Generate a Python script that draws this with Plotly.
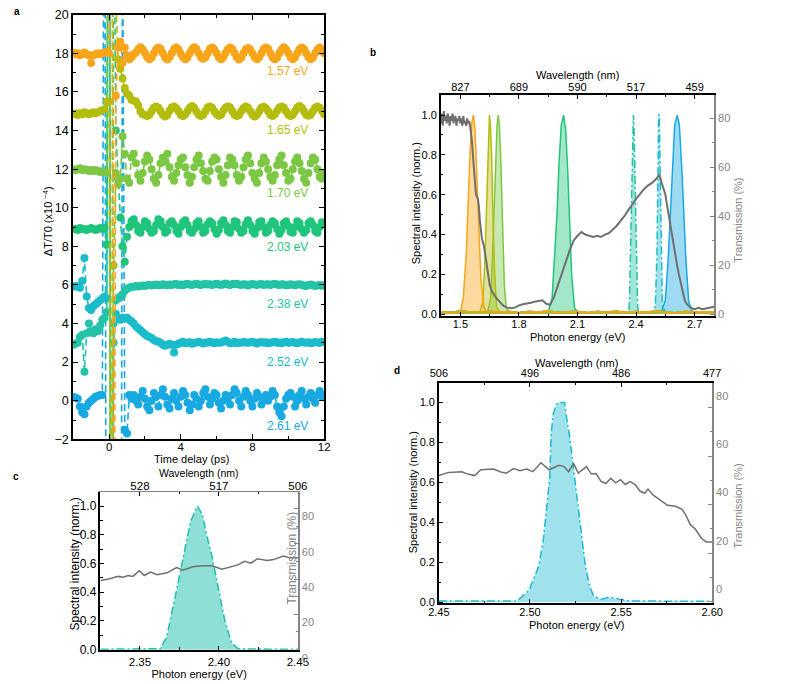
import plotly.graph_objects as go

FONT = "Liberation Sans, Arial, Helvetica, sans-serif"
GRAY = "#858585"
TGRAY = "#6f6f6f"

# ---------------- panel a : pump-probe traces ----------------
TIME_START = -2.0
TIME_STEP = 0.125
N_POINTS = 113
TIME = [round(TIME_START + TIME_STEP * i, 4) for i in range(N_POINTS)]

PROBE_LABELS = ["1.57 eV", "1.65 eV", "1.70 eV", "2.03 eV", "2.38 eV", "2.52 eV", "2.61 eV"]
PROBE_COLORS = ["#F8A51A", "#B4BD0C", "#7CC744", "#1EC57B", "#22C3A6", "#1ABCCB", "#17A9E2"]
TRACE_OFFSETS = [18, 15, 12, 9, 6, 3, 0]

DT_157 = [0.05, -0.05, 0.0, -0.1, -0.05, 0.05, -0.05, -0.1, -0.5, -0.1, -0.05, 0.0, -0.05, 0.0, 0.05, 0.1,
          0.0, 40, -40, -2.2, 0.3, 0.6, -0.5, 0.3,
          -0.1, -0.3, -0.2, -0.05, 0.05, 0.2,
          0.32, 0.2, 0.02, -0.2, -0.3, -0.22, 0.0, 0.2,
          0.3, 0.22, 0.0, -0.22, -0.32, -0.2, 0.02, 0.22,
          0.3, 0.2, -0.02, -0.2, -0.3, -0.22, 0.0, 0.2,
          0.32, 0.22, 0.0, -0.2, -0.28, -0.2, 0.0, 0.22,
          0.3, 0.2, 0.0, -0.22, -0.3, -0.2, 0.02, 0.2,
          0.3, 0.22, 0.02, -0.2, -0.32, -0.22, 0.0, 0.2,
          0.28, 0.2, 0.0, -0.2, -0.3, -0.2, 0.0, 0.22,
          0.3, 0.22, 0.0, -0.22, -0.3, -0.22, 0.0, 0.2,
          0.32, 0.2, 0.0, -0.2, -0.3, -0.2, 0.02, 0.2,
          0.3, 0.22, 0.0, -0.2, -0.3, -0.22, 0.0, 0.2,
          0.3, 0.2, 0.0]

DT_165 = [-0.15, -0.1, -0.2, -0.1, -0.15, -0.05, -0.1, -0.15, -0.1, -0.05, -0.1, -0.05, 0.0, 0.05, 0.1, 0.5,
          0.5, -40, 40, 6, 2.7, 2.2, 1.7, 1.2,
          0.9, 0.8, 0.6, 0.55, 0.5, 0.3, 0.0, -0.15, -0.2,
          -0.25, -0.18, 0.0, 0.18, 0.25, 0.18, 0.0, -0.18,
          -0.27, -0.2, 0.02, 0.2, 0.25, 0.16, 0.0, -0.2,
          -0.25, -0.16, 0.0, 0.18, 0.27, 0.18, -0.02, -0.18,
          -0.25, -0.18, 0.0, 0.2, 0.25, 0.18, 0.0, -0.16,
          -0.23, -0.18, 0.02, 0.18, 0.25, 0.2, 0.0, -0.18,
          -0.25, -0.2, 0.0, 0.16, 0.25, 0.18, 0.0, -0.18,
          -0.27, -0.18, 0.0, 0.18, 0.23, 0.16, 0.0, -0.2,
          -0.25, -0.16, 0.02, 0.18, 0.25, 0.18, 0.0, -0.18,
          -0.25, -0.18, 0.0, 0.2, 0.27, 0.18, 0.0, -0.18,
          -0.23, -0.18, 0.0, 0.18, 0.25, 0.18, 0.02, -0.16]

DT_170 = [0.0, -0.05, 0.0, 0.05, -0.05, 0.0, -0.05, -0.1, -0.05, -0.1, -0.05, -0.1, -0.15, -0.1, -0.15, -0.2,
          40, -40, -5, -0.2, -0.8, -0.5, 1.7, 0.8,
          -0.5, -0.7, 0.6, 0.8, 0.3, -0.3, -0.6, -0.2,
          0.4, 0.7, 0.5, 0.0, -0.5, -0.7, -0.3, 0.3,
          0.6, 0.4, 0.8, 0.1, -0.4, -0.6, -0.2, 0.2,
          0.5, 0.6, 0.1, -0.3, -0.7, -0.4, 0.1, 0.5,
          0.7, 0.3, -0.1, -0.5, -0.6, -0.1, 0.4, 0.6,
          0.5, 0.0, -0.4, -0.7, -0.3, 0.2, 0.6, 0.5,
          0.2, -0.3, -0.6, -0.4, 0.1, 0.5, 0.7, 0.3,
          -0.2, -0.5, -0.7, -0.2, 0.3, 0.6, 0.4, 0.0,
          -0.4, -0.6, -0.3, 0.2, 0.5, 0.7, 0.2, -0.2,
          -0.6, -0.5, 0.0, 0.4, 0.6, 0.3, -0.1, -0.5,
          -0.7, -0.2, 0.3, 0.6, 0.5, 0.0, -0.4, -0.5,
          -0.2]

DT_203 = [-0.1, -0.1, -0.15, -0.05, -0.1, -0.1, -0.15, -0.1, -0.05, -0.1, -0.15, -0.1, -0.05, -0.1, -0.05, -0.9,
          40, -40, 20, 5, 2.5, 0.5, -1.0, -1.8, -0.5, 0.0,
          0.3, 0.4, 0.1, -0.2, -0.3, 0.0, 0.3, 0.2,
          -0.1, -0.3, -0.2, 0.1, 0.4, 0.3, 0.0, -0.3,
          -0.2, 0.2, 0.3, 0.1, -0.2, -0.35, 0.0, 0.25,
          0.35, 0.1, -0.2, -0.3, -0.1, 0.2, 0.3, 0.0,
          -0.3, -0.2, 0.15, 0.3, 0.2, -0.1, -0.35, -0.15,
          0.2, 0.35, 0.1, -0.2, -0.3, 0.0, 0.3, 0.25,
          -0.1, -0.3, -0.2, 0.15, 0.35, 0.1, -0.2, -0.35,
          -0.05, 0.25, 0.3, 0.0, -0.3, -0.2, 0.1, 0.3,
          0.2, -0.1, -0.35, -0.15, 0.2, 0.3, 0.05, -0.25,
          -0.3, 0.0, 0.3, 0.2, -0.1, -0.3, -0.15, 0.2,
          0.3, 0.1, -0.2, -0.3, 0.0, 0.25, 0.2]

DT_238 = [-3.1, -3.05, -3.0, -2.7, -2.6, -4.5, -2.5, -2.0, -2.4, -2.5, -2.3, -2.4, -2.1, -1.8, -1.7, -1.4,
          40, -40, -3.0, -0.8, -0.7, -0.6, -0.5, -0.3, -0.2, -0.15, -0.1,
          -0.1, -0.05, -0.08, -0.05, -0.03, -0.06, -0.02, 0.0,
          -0.03, 0.0, 0.02, -0.02, 0.0, 0.03, 0.0, -0.02,
          0.02, 0.0, 0.03, 0.05, 0.0, 0.02, -0.02, 0.03,
          0.05, 0.02, 0.0, 0.04, 0.06, 0.02, 0.0, 0.03,
          0.05, 0.02, 0.04, 0.0, 0.03, 0.06, 0.02, 0.0,
          0.04, 0.08, 0.02, 0.0, 0.05, 0.03, 0.06, 0.02,
          0.0, 0.04, 0.02, -0.03, 0.02, 0.05, 0.02, 0.0,
          0.03, 0.05, 0.0, 0.02, 0.04, 0.0, 0.03, 0.05,
          0.02, 0.0, 0.04, 0.02, -0.02, 0.0, 0.03, 0.01,
          -0.02, 0.02, 0.04, 0.0, -0.03, -0.05, 0.0, 0.02,
          -0.02, -0.05, -0.03, 0.0, -0.04, -0.02]

DT_252 = [2.9, 2.95, 2.9, 2.85, 3.2, 4.4, 2.4, 1.8, 1.7, 1.9, 2.0, 2.1, 2.2, 2.3, 2.4, 2.3,
          40, -40,
          1.0, 1.5, 1.3, 1.2, 1.3, 1.3, 1.3, 1.2, 1.1, 1.0,
          0.85, 0.75, 0.65, 0.55, 0.45, 0.35, 0.3, 0.25, 0.15, 0.1,
          0.05, 0.0, -0.1, -0.15, -0.1, -0.05, -0.1, -0.5, -0.1,
          -0.05, 0.0, 0.05, -0.02, 0.0, 0.03, -0.05, 0.0,
          0.02, 0.05, 0.0, -0.03, 0.02, 0.0, 0.05, 0.02,
          -0.02, 0.03, 0.0, 0.02, 0.05, 0.12, 0.05, -0.02,
          0.0, 0.06, -0.02, 0.02, 0.0, 0.04, 0.02, 0.0,
          0.03, 0.06, 0.0, -0.03, 0.02, 0.04, 0.0, 0.03,
          -0.02, 0.0, 0.03, 0.05, 0.0, 0.02, -0.02, 0.03,
          0.05, 0.0, 0.02, 0.04, 0.0, -0.02, 0.02, 0.05,
          0.02, 0.0, 0.03, -0.02, 0.0, 0.04, 0.02, 0.0,
          0.05, 0.03]

DT_261 = [0.2, 0.15, 0.1, -0.3, -0.6, -0.7, -0.3, -0.1, 0.0, 0.1, 0.2, 0.25, 0.3, 0.3, 40, -40,
          -40, -40, -40, -40, -40, -40, 25, -1.5, -1.7, 0.3,
          0.1, 0.3, 0.0, -0.2, 0.2, 0.5, 0.1, -0.3,
          -0.5, 0.0, 0.4, 0.2, -0.3, 0.3, 0.6, 0.2,
          -0.2, -0.4, 0.1, 0.4, 0.0, -0.3, 0.2, 0.5,
          0.3, -0.1, -0.5, -0.2, 0.3, 0.1, -0.3, 0.0,
          0.4, 0.6, 0.2, -0.2, 0.1, 0.4, 0.3, -0.1,
          -0.4, 0.0, 0.3, 0.1, -0.2, 0.3, 0.6, 0.4,
          0.0, -0.3, 0.2, 0.5, 0.3, 0.0, -0.3, 0.1,
          0.4, 0.2, -0.2, 0.1, 0.3, 0.0, 0.2, 0.5,
          0.3, -0.3, -0.6, -0.8, -0.3, 0.1, 0.3, 0.4,
          0.2, -0.3, 0.0, 0.3, 0.5, 0.1, -0.2, 0.2,
          0.4, 0.1, -0.1, 0.3, 0.5, 0.2, 0.3]

TRACES_A = [DT_157, DT_165, DT_170, DT_203, DT_238, DT_252, DT_261]
LABEL_Y = [17.06, 14.03, 10.77, 7.98, 5.03, 2.02, -1.33]

# ---------------- panel b : probe spectra + transmission ----------------
E_BASE = [1.40, 1.45, 1.50, 1.55, 1.60, 1.65, 1.70, 1.75, 1.80, 1.85, 1.90, 1.95, 2.00, 2.05, 2.10,
          2.15, 2.20, 2.25, 2.30, 2.35, 2.40, 2.45, 2.50, 2.55, 2.60, 2.65, 2.70, 2.75, 2.80]
I_BASE = [0.012, 0.008, 0.015, 0.01, 0.006, 0.014, 0.009, 0.012, 0.007, 0.013, 0.01, 0.015, 0.008, 0.011,
          0.013, 0.007, 0.012, 0.01, 0.014, 0.008, 0.012, 0.009, 0.015, 0.01, 0.007, 0.013, 0.011, 0.009, 0.012]

E_157 = [1.50, 1.515, 1.53, 1.54, 1.55, 1.56, 1.567, 1.575, 1.585, 1.595, 1.605, 1.62, 1.635]
I_157 = [0.01, 0.08, 0.3, 0.55, 0.82, 0.97, 1.0, 0.93, 0.7, 0.42, 0.18, 0.04, 0.01]
E_165 = [1.60, 1.615, 1.625, 1.633, 1.64, 1.645, 1.649, 1.654, 1.66, 1.667, 1.675, 1.685, 1.70]
I_165 = [0.01, 0.06, 0.25, 0.5, 0.78, 0.95, 1.0, 0.95, 0.8, 0.5, 0.22, 0.04, 0.01]
E_170 = [1.64, 1.655, 1.665, 1.672, 1.68, 1.688, 1.694, 1.70, 1.708, 1.716, 1.725, 1.735, 1.75]
I_170 = [0.01, 0.08, 0.3, 0.5, 0.75, 0.95, 1.0, 0.95, 0.75, 0.45, 0.15, 0.03, 0.01]
E_203 = [1.95, 1.97, 1.985, 1.995, 2.005, 2.017, 2.029, 2.04, 2.05, 2.06, 2.07, 2.085, 2.10]
I_203 = [0.01, 0.08, 0.3, 0.5, 0.75, 0.95, 1.0, 0.92, 0.72, 0.45, 0.2, 0.03, 0.01]
E_261 = [2.53, 2.55, 2.565, 2.575, 2.585, 2.598, 2.611, 2.622, 2.635, 2.645, 2.655, 2.67, 2.69]
I_261 = [0.01, 0.07, 0.28, 0.48, 0.72, 0.95, 1.0, 0.95, 0.72, 0.5, 0.28, 0.06, 0.01]

# narrow spectra (panels c and d, also shown in b)
E_238 = [2.325, 2.34, 2.355, 2.3628, 2.3669, 2.371, 2.3751, 2.3792, 2.3823, 2.3864, 2.3895, 2.3925,
         2.3956, 2.3997, 2.4038, 2.4079, 2.412, 2.42, 2.435, 2.45]
I_238 = [0.003, 0.003, 0.004, 0.007, 0.086, 0.29, 0.515, 0.74, 0.9, 1.0, 0.94, 0.785, 0.65, 0.425,
         0.2, 0.05, 0.007, 0.004, 0.003, 0.003]
E_252 = [2.45, 2.47, 2.485, 2.493, 2.4995, 2.5048, 2.5073, 2.5093, 2.5109, 2.5116, 2.5127, 2.5145,
         2.5158, 2.519, 2.5198, 2.5216, 2.5244, 2.5265, 2.5287, 2.5304, 2.5327, 2.535, 2.539, 2.544,
         2.549, 2.555, 2.57, 2.585, 2.60]
I_252 = [0.005, 0.004, 0.005, 0.006, 0.06, 0.18, 0.31, 0.47, 0.63, 0.84, 0.94, 0.99, 1.0, 1.0, 0.94,
         0.84, 0.63, 0.47, 0.31, 0.18, 0.08, 0.03, 0.015, 0.025, 0.015, 0.006, 0.005, 0.004, 0.004]

E_TRANS_B = [1.40, 1.405, 1.41, 1.415, 1.42, 1.425, 1.43, 1.435, 1.44, 1.445,
             1.45, 1.455, 1.46, 1.465, 1.47, 1.475, 1.48, 1.485, 1.49, 1.495,
             1.50, 1.505, 1.51, 1.515, 1.52, 1.525, 1.53, 1.535, 1.54, 1.545,
             1.55, 1.555, 1.56, 1.565, 1.57, 1.575, 1.58, 1.585, 1.59, 1.595, 1.60,
             1.61, 1.62, 1.63, 1.64, 1.65, 1.66, 1.67, 1.68, 1.69, 1.70,
             1.72, 1.74, 1.76, 1.78, 1.80, 1.82, 1.84, 1.86, 1.88, 1.90,
             1.92, 1.94, 1.96, 1.98, 2.00, 2.02, 2.04, 2.06, 2.08, 2.10,
             2.12, 2.14, 2.16, 2.18, 2.20, 2.22, 2.24, 2.26, 2.28, 2.30,
             2.32, 2.34, 2.36, 2.38, 2.40, 2.42, 2.44, 2.46, 2.48, 2.50,
             2.51, 2.52, 2.53, 2.54, 2.55, 2.56, 2.57, 2.58, 2.59, 2.60, 2.61, 2.62, 2.63, 2.64, 2.65, 2.66,
             2.68, 2.70, 2.72, 2.74, 2.76, 2.78, 2.80]
T_TRANS_B = [78, 82, 77, 83, 79, 81, 78, 82, 80, 77,
             81, 79, 82, 78, 80, 81, 77, 80, 79, 81,
             78, 80, 77, 81, 78, 79, 77, 80, 78, 79,
             77, 74, 70, 64, 58, 52, 49, 48, 47, 44, 38,
             31, 28, 23, 18, 12, 9.5, 8, 7, 6, 5,
             3.4, 2.6, 2.4, 2.6, 3.5, 4, 4.2, 4.6, 5, 5.3,
             5.6, 4.2, 3.8, 7, 12, 17, 22, 26, 30, 32,
             33.5, 32.5, 32, 31.5, 32, 31.5, 32.5, 33, 34.5, 36,
             38, 40, 42.5, 45, 47, 49, 51, 52.5, 53.5, 55,
             56, 57, 54, 51, 49, 44, 39, 34, 30, 25, 20, 16, 12, 8, 5.5, 4,
             2.6, 2, 2.5, 2, 2.4, 2.8, 3]

# ---------------- panel c / d transmission ----------------
E_TRANS_C = [2.325, 2.3301, 2.3363, 2.3394, 2.3425, 2.3455, 2.3496, 2.3527, 2.3568, 2.3609, 2.3671,
             2.3732, 2.3773, 2.3834, 2.3896, 2.3957, 2.4019, 2.408, 2.4121, 2.4162, 2.4203, 2.4244,
             2.4305, 2.4346, 2.4408, 2.4449, 2.45]
T_TRANS_C = [39.2, 40, 41.5, 41, 42, 41.5, 44.7, 42, 44, 42.5, 43.5, 46.5, 45, 47, 47.5, 47.5, 45.5,
             47, 48, 50, 49, 51.5, 50.5, 51, 53, 52, 52]
E_TRANS_D = [2.45, 2.4553, 2.4625, 2.466, 2.4696, 2.473, 2.48, 2.484, 2.487, 2.491, 2.4945, 2.498,
             2.5016, 2.506, 2.5105, 2.5158, 2.5185, 2.5212, 2.5239, 2.5265, 2.531, 2.5336, 2.5363,
             2.539, 2.5417, 2.5443, 2.547, 2.5497, 2.5523, 2.555, 2.5577, 2.5603, 2.563, 2.5648,
             2.5675, 2.571, 2.5755, 2.58, 2.5835, 2.5853, 2.588, 2.5906, 2.5942, 2.5968, 2.60]
T_TRANS_D = [52, 53.3, 53.6, 52.6, 52, 54.4, 54.7, 53.5, 53, 54.9, 54, 54.7, 53.6, 57.3, 54.4, 56.2,
             55.8, 53.6, 57, 53, 55.7, 52.7, 52.7, 49.6, 48.7, 50.9, 49, 50.3, 48.3, 49.5, 48.3, 45.6,
             44.7, 46.4, 44, 42, 39.7, 39.3, 38, 36, 31.7, 30, 26, 24.6, 24.6]

# axis tick labels
B_EV_TICKS = [1.5, 1.8, 2.1, 2.4, 2.7]
B_NM_LABELS = ["827", "689", "590", "517", "459"]
C_EV_TICKS = [2.35, 2.40, 2.45]
C_NM_LABELS = ["528", "517", "506"]
D_EV_TICKS = [2.45, 2.50, 2.55, 2.60]
D_NM_LABELS = ["506", "496", "486", "477"]


def rgba(hex_color, a):
    h = hex_color.lstrip("#")
    return "rgba(%d,%d,%d,%.2f)" % (int(h[0:2], 16), int(h[2:4], 16), int(h[4:6], 16), a)


def with_base(e_pk, i_pk):
    lo, hi = min(e_pk), max(e_pk)
    pts = [(e, v) for e, v in zip(E_BASE, I_BASE) if e < lo or e > hi] + list(zip(e_pk, i_pk))
    pts.sort()
    return [p[0] for p in pts], [p[1] for p in pts]


DASH_A = "7px,4px"
DASHDOT = "8px,3px,2px,3px"

fig = go.Figure()

# panel a traces (bottom trace first so orange ends on top)
for k in reversed(range(len(TRACES_A))):
    col = PROBE_COLORS[k]
    fig.add_trace(go.Scatter(
        x=TIME, y=[TRACE_OFFSETS[k] + v for v in TRACES_A[k]],
        mode="lines+markers", xaxis="x", yaxis="y",
        line=dict(color=col, width=1.6, dash=DASH_A),
        marker=dict(size=8, color=col), hoverinfo="skip"))

# panel b spectra
spec_b = [(E_261, I_261, PROBE_COLORS[6], "solid"),
          (E_252, I_252, PROBE_COLORS[5], DASHDOT),
          (E_238, I_238, PROBE_COLORS[4], DASHDOT),
          (E_203, I_203, PROBE_COLORS[3], "solid"),
          (E_170, I_170, PROBE_COLORS[2], "solid"),
          (E_165, I_165, PROBE_COLORS[1], "solid"),
          (E_157, I_157, PROBE_COLORS[0], "solid")]
for e_pk, i_pk, col, dash in spec_b:
    xs, ys = with_base(e_pk, i_pk)
    fig.add_trace(go.Scatter(x=xs, y=ys, mode="lines", xaxis="x2", yaxis="y2",
                             line=dict(color=col, width=1.5, dash=dash),
                             fill="tozeroy", fillcolor=rgba(col, 0.42), hoverinfo="skip"))
fig.add_trace(go.Scatter(x=E_TRANS_B, y=T_TRANS_B, mode="lines", xaxis="x2", yaxis="y3",
                         line=dict(color=TGRAY, width=2), hoverinfo="skip"))
fig.add_trace(go.Scatter(x=[2.0], y=[0.5], mode="markers", xaxis="x3", yaxis="y2",
                         marker=dict(opacity=0), hoverinfo="skip"))

# panel c
C_COL = "#1DBFAE"
fig.add_trace(go.Scatter(x=E_238, y=I_238, mode="lines", xaxis="x4", yaxis="y4",
                         line=dict(color=C_COL, width=1.5, dash=DASHDOT),
                         fill="tozeroy", fillcolor=rgba(C_COL, 0.5), hoverinfo="skip"))
fig.add_trace(go.Scatter(x=E_TRANS_C, y=T_TRANS_C, mode="lines", xaxis="x4", yaxis="y5",
                         line=dict(color=TGRAY, width=1.5), hoverinfo="skip"))
fig.add_trace(go.Scatter(x=[2.4], y=[0.5], mode="markers", xaxis="x5", yaxis="y4",
                         marker=dict(opacity=0), hoverinfo="skip"))

# panel d
D_COL = "#1CB9D2"
fig.add_trace(go.Scatter(x=E_252, y=I_252, mode="lines", xaxis="x6", yaxis="y6",
                         line=dict(color=D_COL, width=1.5, dash=DASHDOT),
                         fill="tozeroy", fillcolor=rgba(D_COL, 0.42), hoverinfo="skip"))
fig.add_trace(go.Scatter(x=E_TRANS_D, y=T_TRANS_D, mode="lines", xaxis="x6", yaxis="y7",
                         line=dict(color=TGRAY, width=1.5), hoverinfo="skip"))
fig.add_trace(go.Scatter(x=[2.5], y=[0.5], mode="markers", xaxis="x7", yaxis="y6",
                         marker=dict(opacity=0), hoverinfo="skip"))


def axis(**kw):
    d = dict(showline=True, linecolor="black", linewidth=1.5, ticks="inside", ticklen=4,
             tickwidth=1, tickcolor="black", showgrid=False, zeroline=False,
             tickfont=dict(family=FONT, size=11, color="black"))
    d.update(kw)
    return d


def minor(vals, color="black", ln=2.5):
    return dict(tickmode="array", tickvals=vals, ticks="inside", ticklen=ln, tickcolor=color, showgrid=False)


def gray_axis(**kw):
    d = axis(linecolor=GRAY, tickcolor=GRAY, tickfont=dict(family=FONT, size=11, color=GRAY))
    d.update(kw)
    return d


def px_x(x):
    return x / 800.0


def px_y(y):
    return 1 - y / 684.0


layout = dict(
    width=800, height=684, margin=dict(l=0, r=0, t=0, b=0),
    paper_bgcolor="white", plot_bgcolor="white", showlegend=False,
    font=dict(family=FONT, size=11, color="black"),
    # panel a
    xaxis=axis(domain=[px_x(64), px_x(322)], anchor="y", range=[-2, 12], tickmode="array",
               tickvals=[0, 4, 8, 12], minor=minor([2, 6, 10], ln=3), linewidth=2, ticklen=5,
               mirror="allticks", ticklabelstandoff=-4,
               tickfont=dict(family=FONT, size=11.5, color="black")),
    yaxis=axis(domain=[px_y(446), px_y(8)], anchor="x", range=[-2, 20], tickmode="array",
               tickvals=list(range(-2, 21, 2)), minor=minor(list(range(-1, 20, 2)), ln=3),
               linewidth=2, ticklen=5, mirror="allticks",
               tickfont=dict(family=FONT, size=12.5, color="black")),
    # panel b
    xaxis2=axis(domain=[px_x(442), px_x(723)], anchor="y2", range=[1.4, 2.8], tickmode="array",
                tickvals=B_EV_TICKS, ticktext=["1.5", "1.8", "2.1", "2.4", "2.7"],
                minor=minor([1.65, 1.95, 2.25, 2.55]), ticklabelstandoff=-3),
    xaxis3=axis(overlaying="x2", side="top", anchor="y2", range=[1.4, 2.8], tickmode="array",
                tickvals=B_EV_TICKS, ticktext=B_NM_LABELS, minor=minor([1.65, 1.95, 2.25, 2.55]),
                ticklabelstandoff=-2),
    yaxis2=axis(domain=[px_y(319), px_y(91)], anchor="x2", range=[-0.011, 1.1], tickmode="array",
                tickvals=[0, 0.2, 0.4, 0.6, 0.8, 1.0], tickformat=".1f",
                minor=minor([0.1, 0.3, 0.5, 0.7, 0.9])),
    yaxis3=gray_axis(overlaying="y2", side="right", anchor="x2", range=[-0.9, 89.5], tickmode="array",
                     tickvals=[0, 20, 40, 60, 80], minor=minor([10, 30, 50, 70], GRAY)),
    # panel c
    xaxis4=axis(domain=[px_x(92), px_x(295)], anchor="y4", range=[2.325, 2.45], tickmode="array",
                tickvals=C_EV_TICKS, ticktext=["2.35", "2.40", "2.45"],
                minor=minor([2.375, 2.425]), ticklabelstandoff=1,
                tickfont=dict(family=FONT, size=11.5, color="black"),
                title=dict(text="Photon energy (eV)", standoff=0,
                           font=dict(family=FONT, size=11, color="black"))),
    xaxis5=axis(overlaying="x4", side="top", anchor="y4", range=[2.325, 2.45], tickmode="array",
                tickvals=C_EV_TICKS, ticktext=C_NM_LABELS, linecolor=GRAY, linewidth=1,
                minor=minor([2.375, 2.425]), ticklabelstandoff=-4,
                tickfont=dict(family=FONT, size=11.5, color="black")),
    yaxis4=axis(domain=[px_y(663), px_y(500)], anchor="x4", range=[0, 1.1], tickmode="array",
                tickvals=[0, 0.2, 0.4, 0.6, 0.8, 1.0], tickformat=".1f",
                minor=minor([0.1, 0.3, 0.5, 0.7, 0.9]),
                tickfont=dict(family=FONT, size=12, color="black")),
    yaxis5=gray_axis(overlaying="y4", side="right", anchor="x4", range=[0, 89.5], tickmode="array",
                     tickvals=[0, 20, 40, 60, 80], minor=minor([10, 30, 50, 70], GRAY),
                     ticklabelshift=8, tickfont=dict(family=FONT, size=11, color=GRAY)),
    # panel d
    xaxis6=axis(domain=[px_x(440), px_x(721)], anchor="y6", range=[2.45, 2.60], tickmode="array",
                tickvals=D_EV_TICKS, ticktext=["2.45", "2.50", "2.55", "2.60"],
                minor=minor([2.475, 2.525, 2.575]), ticklabelstandoff=-2),
    xaxis7=axis(overlaying="x6", side="top", anchor="y6", range=[2.45, 2.60], tickmode="array",
                tickvals=D_EV_TICKS, ticktext=D_NM_LABELS, minor=minor([2.475, 2.525, 2.575])),
    yaxis6=axis(domain=[px_y(615), px_y(388)], anchor="x6", range=[-0.005, 1.097], tickmode="array",
                tickvals=[0, 0.2, 0.4, 0.6, 0.8, 1.0], tickformat=".1f",
                minor=minor([0.1, 0.3, 0.5, 0.7, 0.9])),
    yaxis7=gray_axis(overlaying="y6", side="right", anchor="x6", range=[-0.7, 90.2], tickmode="array",
                     tickvals=[0, 20, 40, 60, 80], minor=minor([10, 30, 50, 70, 90], GRAY),
                     ticklabelshift=-12),
)
fig.update_layout(**layout)

ann = []


def text(x, y, s, size=11, color="black", angle=0, xanchor="center", bold=False):
    ann.append(dict(x=px_x(x), y=px_y(y), xref="paper", yref="paper", text=("<b>%s</b>" % s) if bold else s,
                    showarrow=False, textangle=angle, xanchor=xanchor, yanchor="middle",
                    font=dict(family=FONT, size=size, color=color)))


# panel letters
text(6, 5, "a", size=10, bold=True)
text(372, 47, "b", size=10, bold=True)
text(5, 484, "c", size=10, bold=True)
text(397, 375, "d", size=10, bold=True)

# panel a titles
text(38, 221, "ΔT/T0 (x10 <sup>−4</sup>)", angle=-90)
text(186, 466.5, "Time delay (ps)")
for lab, col, yv in zip(PROBE_LABELS, PROBE_COLORS, LABEL_Y):
    ann.append(dict(x=11.2, y=yv, xref="x", yref="y", text=lab, showarrow=False, xanchor="right",
                    yanchor="middle", font=dict(family=FONT, size=12, color=col)))

# panel b titles
text(583, 70, "Wavelength (nm)")
text(583, 340, "Photon energy (eV)")
text(416, 203, "Spectral intensity (norm.)", angle=-90)
text(748, 220, "Transmission (%)", angle=-90, color=GRAY)

# panel c titles
text(193, 481, "Wavelength (nm)", size=10.5)
text(66, 575, "Spectral intensity (norm.)", angle=-90, size=12)
text(288, 569, "Transmission (%)", angle=-90, color=GRAY, size=12)

# panel d titles
text(581, 367, "Wavelength (nm)")
text(582, 638, "Photon energy (eV)")
text(413, 501, "Spectral intensity (norm.)", angle=-90)
text(748, 515, "Transmission (%)", angle=-90, color=GRAY)

fig.update_layout(annotations=ann)
fig.write_html("out.html")
